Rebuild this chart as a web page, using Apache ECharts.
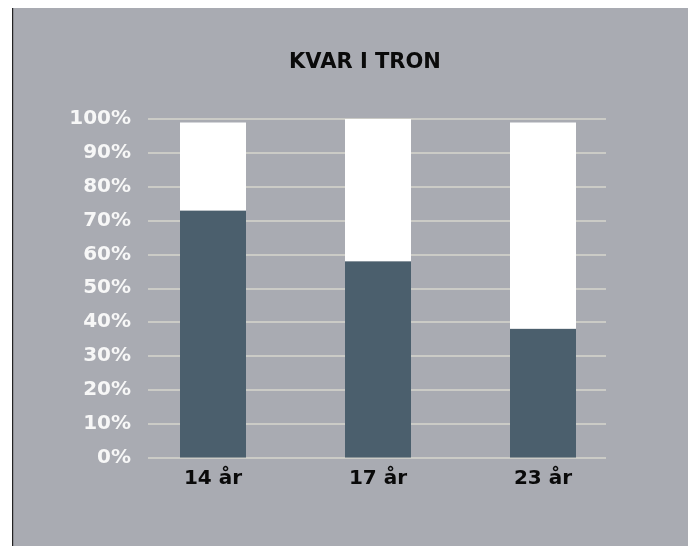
<!DOCTYPE html>
<html>
<head>
<meta charset="utf-8">
<script src="https://cdn.jsdelivr.net/npm/echarts@6/dist/echarts.min.js"></script>
<style>
  html, body { margin: 0; padding: 0; background: #fff; }
  #main { width: 688px; height: 546px; }
</style>
</head>
<body>
<div id="main"></div>
<script>
var categories = ['14 år', '17 år', '23 år'];
var kvar = [73, 58, 38];      // mörk del
var resten = [26, 42, 61];    // vit del
var yTicks = [0, 10, 20, 30, 40, 50, 60, 70, 80, 90, 100];

var chart = echarts.init(document.getElementById('main'));

var option = {
    backgroundColor: '#ffffff',
    animation: false,
    graphic: [
        {
            type: 'rect',
            shape: { x: 12, y: 8, width: 676, height: 538 },
            style: { fill: '#a9abb2' },
            z: -10
        },
        {
            type: 'rect',
            shape: { x: 12, y: 8, width: 1.2, height: 538 },
            style: { fill: '#222' },
            z: -9
        }
    ],
    title: {
        text: 'KVAR I TRON',
        left: 360,
        top: 47,
        textAlign: 'center',
        textStyle: {
            fontFamily: 'DejaVu Sans',
            fontWeight: 'bold',
            fontSize: 21,
            color: '#0a0a0a'
        }
    },
    grid: [
        { left: 148, right: 82, top: 119, bottom: 88.5 },
        { left: 130.5, right: 62.5, top: 119, bottom: 88.5 }
    ],
    xAxis: [
        { type: 'category', gridIndex: 0, data: categories, show: false },
        {
            type: 'category',
            gridIndex: 1,
            data: categories,
            axisLine: { show: false },
            axisTick: { show: false },
            axisLabel: {
                margin: 11,
                fontFamily: 'DejaVu Sans',
                fontWeight: 'bold',
                fontSize: 20,
                color: '#0a0a0a'
            }
        }
    ],
    yAxis: [
        {
            type: 'value',
            gridIndex: 0,
            min: 0,
            max: 100,
            interval: 10,
            axisLine: { show: false },
            axisTick: { show: false },
            splitLine: { lineStyle: { color: '#cbcbc6', width: 2 } },
            axisLabel: {
                margin: 17,
                formatter: function (v) { return yTicks.indexOf(v) >= 0 ? v + '%' : ''; },
                fontFamily: 'DejaVu Sans',
                fontWeight: 'bold',
                fontSize: 20,
                color: '#f7f7f7'
            }
        },
        {
            type: 'value',
            gridIndex: 1,
            min: 0,
            max: 100,
            show: false
        }
    ],
    series: [
        {
            type: 'bar',
            xAxisIndex: 1,
            yAxisIndex: 1,
            stack: 'a',
            barWidth: 66,
            data: kvar,
            itemStyle: { color: '#4b5f6d' }
        },
        {
            type: 'bar',
            xAxisIndex: 1,
            yAxisIndex: 1,
            stack: 'a',
            barWidth: 66,
            data: resten,
            itemStyle: { color: '#ffffff' }
        }
    ]
};
chart.setOption(option);
</script>
</body>
</html>
